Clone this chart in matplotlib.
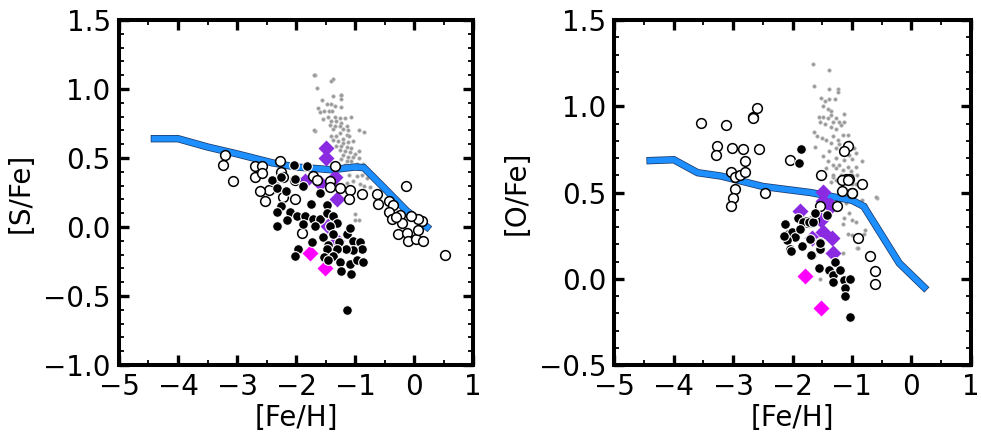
import matplotlib
matplotlib.use("Agg")
import matplotlib.pyplot as plt
import matplotlib.patheffects as pe
from matplotlib.ticker import MultipleLocator

plt.rcParams["font.family"] = "DejaVu Sans"

# ---- model tracks
s_model_feh = [-4.4, -4.0, -3.5, -3.0, -2.4, -2.0, -1.4, -1.0, -0.85, -0.5, -0.12, 0.05, 0.22]
s_model_val = [0.64, 0.64, 0.58, 0.53, 0.465, 0.435, 0.415, 0.435, 0.43, 0.28, 0.115, 0.06, 0.0]
o_model_feh = [-4.4, -4.0, -3.6, -3.2, -2.5, -1.7, -1.0, -0.8, -0.2, 0.22]
o_model_val = [0.685, 0.69, 0.615, 0.595, 0.535, 0.50, 0.455, 0.42, 0.09, -0.05]

# ---- [S/Fe] panel
s_open_feh = [-3.20, -3.23, -3.06, -2.69, -2.57, -2.69, -2.58, -2.27, -2.25, -2.22, -2.36, -2.45,
              -2.61, -2.53, -2.22, -2.02, -2.01, -1.72, -1.65, -1.42, -1.43, -1.34, -1.26, -1.08,
              -1.11, -0.89, -0.63, -0.61, -0.42, -0.35, -0.43, -0.38, -0.24, -0.21, -0.27, -0.12,
              -0.10, 0.03, 0.07, 0.13, 0.07, 0.15, -0.14, 0.53, -1.90, -0.30, -0.05]
s_open_val = [0.525, 0.45, 0.33, 0.44, 0.44, 0.36, 0.39, 0.48, 0.40, 0.36, 0.29, 0.27,
              0.26, 0.19, 0.22, 0.34, 0.20, 0.37, 0.34, 0.33, 0.29, 0.44, 0.28, 0.27,
              0.20, 0.24, 0.24, 0.17, 0.19, 0.16, 0.11, 0.06, 0.09, 0.03, -0.05, -0.04,
              -0.10, -0.09, -0.02, 0.04, 0.06, -0.10, 0.30, -0.20, -0.04, 0.07, 0.08]
s_fill_feh = [-2.03, -1.82, -2.40, -2.25, -2.33, -2.17, -2.01, -1.89, -1.59, -1.75, -1.48, -2.25,
              -2.33, -2.10, -2.16, -2.33, -1.99, -1.85, -1.71, -1.59, -1.48, -1.37, -1.30, -1.89,
              -1.68, -1.42, -1.54, -1.73, -1.37, -1.45, -1.28, -1.14, -1.08, -1.03, -0.92, -0.89,
              -1.03, -1.15, -1.31, -1.48, -1.53, -1.37, -1.25, -1.09, -0.97, -0.86, -1.23, -1.06,
              -1.45, -1.97, -2.02, -1.13]
s_fill_val = [0.45, 0.44, 0.34, 0.36, 0.28, 0.26, 0.35, 0.30, 0.25, 0.17, 0.16, 0.15,
              0.11, 0.11, 0.05, 0.01, 0.08, 0.08, 0.06, 0.06, 0.10, 0.08, 0.03, 0.02,
              0.01, 0.01, -0.07, -0.11, -0.05, -0.13, -0.11, -0.05, -0.01, -0.10, -0.11, -0.16,
              -0.17, -0.16, -0.16, -0.16, -0.22, -0.21, -0.25, -0.27, -0.24, -0.25, -0.32, -0.34,
              -0.24, -0.16, -0.21, -0.60]
s_grey_feh = [-1.67, -1.38, -1.64, -1.56, -1.38, -1.24, -1.24, -1.62, -1.48, -1.40, -1.34, -1.23,
              -1.59, -1.53, -1.44, -1.39, -1.45, -1.34, -1.06, -1.54, -1.25, -1.17, -1.40, -1.32,
              -1.23, -1.43, -1.34, -1.25, -1.14, -1.37, -1.21, -1.12, -1.67, -1.25, -1.14, -1.40,
              -1.32, -1.21, -1.10, -1.37, -1.29, -1.21, -1.12, -1.03, -1.32, -1.23, -1.14, -1.06,
              -1.25, -1.17, -1.09, -1.00, -0.94, -1.21, -1.12, -1.03, -0.94, -1.23, -1.14, -1.06,
              -0.86, -0.97, -1.17, -1.10, -0.97, -0.89, -0.80, -1.03, -1.14, -0.92, -0.84, -0.75,
              -1.00, -0.93, -1.00, -1.70, -0.84, -0.93, -1.70, -1.40, -1.23]
s_grey_val = [1.10, 1.07, 1.01, 0.92, 0.95, 0.955, 0.93, 0.86, 0.89, 0.89, 0.875, 0.87,
              0.83, 0.84, 0.84, 0.84, 0.80, 0.80, 0.80, 0.78, 0.79, 0.79, 0.77, 0.77,
              0.755, 0.74, 0.73, 0.73, 0.73, 0.71, 0.71, 0.70, 0.695, 0.68, 0.67, 0.66,
              0.66, 0.64, 0.66, 0.63, 0.62, 0.61, 0.615, 0.62, 0.59, 0.59, 0.58, 0.575,
              0.56, 0.55, 0.545, 0.53, 0.55, 0.52, 0.51, 0.51, 0.50, 0.49, 0.48, 0.475,
              0.46, 0.46, 0.45, 0.38, 0.37, 0.38, 0.355, 0.33, 0.32, 0.31, 0.30, 0.29,
              0.095, 0.05, 0.05, 0.70, 0.69, 0.70, 1.10, 1.06, 0.96]
s_purple_feh = [-1.49, -1.49, -1.34, -1.31, -1.59, -1.85, -1.45, -1.30]
s_purple_val = [0.57, 0.50, 0.36, 0.20, 0.32, 0.33, 0.01, -0.10]
s_magenta_feh = [-1.77, -1.51]
s_magenta_val = [-0.19, -0.30]

# ---- [O/Fe] panel
o_open_feh = [-3.54, -3.12, -2.67, -2.67, -2.60, -3.28, -3.29, -3.02, -2.83, -2.57, -2.80, -3.04,
              -2.97, -2.88, -2.80, -2.97, -3.01, -3.04, -2.46, -2.05, -1.52, -1.07, -1.14, -1.10,
              -1.04, -0.83, -1.17, -0.99, -1.53, -1.25, -0.89, -0.70, -0.61, -0.61, -1.17, -1.06,
              -1.00, -1.80, -1.72, -1.64]
o_open_val = [0.905, 0.89, 0.94, 0.93, 0.99, 0.77, 0.72, 0.76, 0.75, 0.75, 0.68, 0.62,
              0.59, 0.60, 0.62, 0.52, 0.47, 0.42, 0.50, 0.69, 0.60, 0.77, 0.74, 0.58,
              0.58, 0.55, 0.51, 0.50, 0.42, 0.42, 0.235, 0.13, 0.045, -0.03, 0.57, 0.57,
              0.50, 0.33, 0.33, 0.34]
o_fill_feh = [-1.86, -1.89, -2.12, -2.07, -2.01, -1.96, -2.10, -1.90, -1.82, -1.73, -1.65, -1.62,
              -1.87, -1.84, -2.04, -1.53, -1.53, -1.67, -1.28, -1.56, -1.39, -1.31, -1.20, -1.31,
              -1.14, -1.03, -1.11, -1.11, -1.03, -1.42, -1.70, -1.53, -1.69, -1.55, -2.03, -2.15]
o_fill_val = [0.75, 0.67, 0.32, 0.26, 0.27, 0.24, 0.225, 0.35, 0.33, 0.33, 0.33, 0.38,
              0.29, 0.19, 0.17, 0.215, 0.17, 0.14, 0.10, 0.06, 0.05, 0.02, 0.05, -0.02,
              -0.01, 0.0, -0.055, -0.10, -0.22, 0.37, 0.23, 0.21, 0.14, 0.06, 0.16, 0.25]
o_grey_feh = [-1.66, -1.39, -1.64, -1.38, -1.24, -1.24, -1.52, -1.46, -1.38, -1.29, -1.48, -1.40,
              -1.35, -1.35, -1.56, -1.48, -1.40, -1.14, -1.27, -1.21, -1.14, -1.54, -1.46, -1.32,
              -1.18, -1.35, -1.27, -1.64, -1.58, -1.51, -1.43, -1.32, -1.15, -1.07, -1.24, -1.35,
              -1.21, -1.04, -1.62, -1.27, -0.96, -1.38, -1.18, -1.04, -0.93, -1.49, -1.27, -1.13,
              -0.99, -0.83, -1.40, -1.32, -1.21, -1.07, -0.93, -1.43, -1.27, -1.15, -1.01, -1.46,
              -1.32, -1.18, -0.99, -1.35, -1.27, -0.93, -1.04, -1.31, -1.22, -0.91, -0.99, -0.83,
              -0.78, -0.58, -1.10, -1.04, -1.13, -1.15, -0.99, -0.93, -1.06, -0.99, -0.91, -0.78,
              -1.15, -1.53, -1.53, -0.60, -0.80, -0.90]
o_grey_val = [1.245, 1.21, 1.12, 1.10, 1.10, 1.085, 1.05, 1.03, 1.04, 1.04, 1.00, 0.985,
              0.97, 0.95, 0.935, 0.935, 0.93, 0.955, 0.93, 0.91, 0.91, 0.91, 0.90, 0.91,
              0.89, 0.88, 0.87, 0.85, 0.825, 0.815, 0.805, 0.825, 0.835, 0.835, 0.805, 0.785,
              0.78, 0.79, 0.765, 0.76, 0.76, 0.74, 0.73, 0.72, 0.73, 0.71, 0.70, 0.69,
              0.695, 0.68, 0.68, 0.66, 0.66, 0.65, 0.65, 0.64, 0.64, 0.63, 0.625, 0.60,
              0.59, 0.60, 0.60, 0.56, 0.575, 0.55, 0.57, 0.60, 0.57, 0.60, 0.55, 0.456,
              0.43, 0.466, 0.44, 0.38, 0.35, 0.32, 0.34, 0.33, 0.26, 0.255, 0.18, 0.28,
              0.15, 0.0, 0.26, 0.476, 0.26, 0.18]
o_purple_feh = [-1.49, -1.48, -1.37, -1.35, -1.87, -1.52, -1.67, -1.49, -1.34, -1.32]
o_purple_val = [0.505, 0.45, 0.43, 0.42, 0.39, 0.34, 0.235, 0.27, 0.235, 0.15]
o_magenta_feh = [-1.79, -1.52]
o_magenta_val = [0.016, -0.17]

fig = plt.figure(figsize=(9.81, 4.42), dpi=100)
ax1 = fig.add_axes([0.1213, 0.1742, 0.3609, 0.7805])
ax2 = fig.add_axes([0.6264, 0.1742, 0.3629, 0.7805])

panels = [
    (ax1, s_model_feh, s_model_val, s_grey_feh, s_grey_val, s_purple_feh, s_purple_val,
     s_magenta_feh, s_magenta_val, s_open_feh, s_open_val, s_fill_feh, s_fill_val,
     "[S/Fe]", (-1.0, 1.5)),
    (ax2, o_model_feh, o_model_val, o_grey_feh, o_grey_val, o_purple_feh, o_purple_val,
     o_magenta_feh, o_magenta_val, o_open_feh, o_open_val, o_fill_feh, o_fill_val,
     "[O/Fe]", (-0.5, 1.5)),
]

for (ax, mx, my, gx, gy, px, py, mgx, mgy, ox, oy, fx, fy, ylab, ylim) in panels:
    ax.scatter(gx, gy, s=7, color="#999999", edgecolors="#c8c8c8", linewidths=0.4, zorder=1)
    ax.plot(mx, my, color="#1e8fff", lw=4.2, solid_joinstyle="miter", zorder=2,
            path_effects=[pe.Stroke(linewidth=5.3, foreground="#1a3a6a"), pe.Normal()])
    ax.plot(px, py, "D", ms=8, color="#8a2be2", mec="none", zorder=3)
    ax.plot(mgx, mgy, "D", ms=8, color="#ff00ff", mec="none", zorder=3)
    ax.plot(ox, oy, "o", ms=7, mfc="white", mec="black", mew=1.1, ls="none", zorder=4)
    ax.plot(fx, fy, "o", ms=7, mfc="black", mec="white", mew=0.8, ls="none", zorder=5)

    ax.set_xlim(-5, 1)
    ax.set_ylim(*ylim)
    ax.xaxis.set_major_locator(MultipleLocator(1))
    ax.xaxis.set_minor_locator(MultipleLocator(0.5))
    ax.yaxis.set_major_locator(MultipleLocator(0.5))
    ax.yaxis.set_minor_locator(MultipleLocator(0.1))
    ax.tick_params(which="both", direction="in", top=True, right=True, labelsize=20)
    ax.tick_params(which="major", length=7, width=2.4, pad=6)
    ax.tick_params(which="minor", length=3.5, width=1.3)
    for sp in ax.spines.values():
        sp.set_linewidth(2.9)
    ax.set_xlabel("[Fe/H]", fontsize=20, labelpad=2)
    ax.set_ylabel(ylab, fontsize=20, labelpad=6)

fig.savefig("out.png", dpi=100)
